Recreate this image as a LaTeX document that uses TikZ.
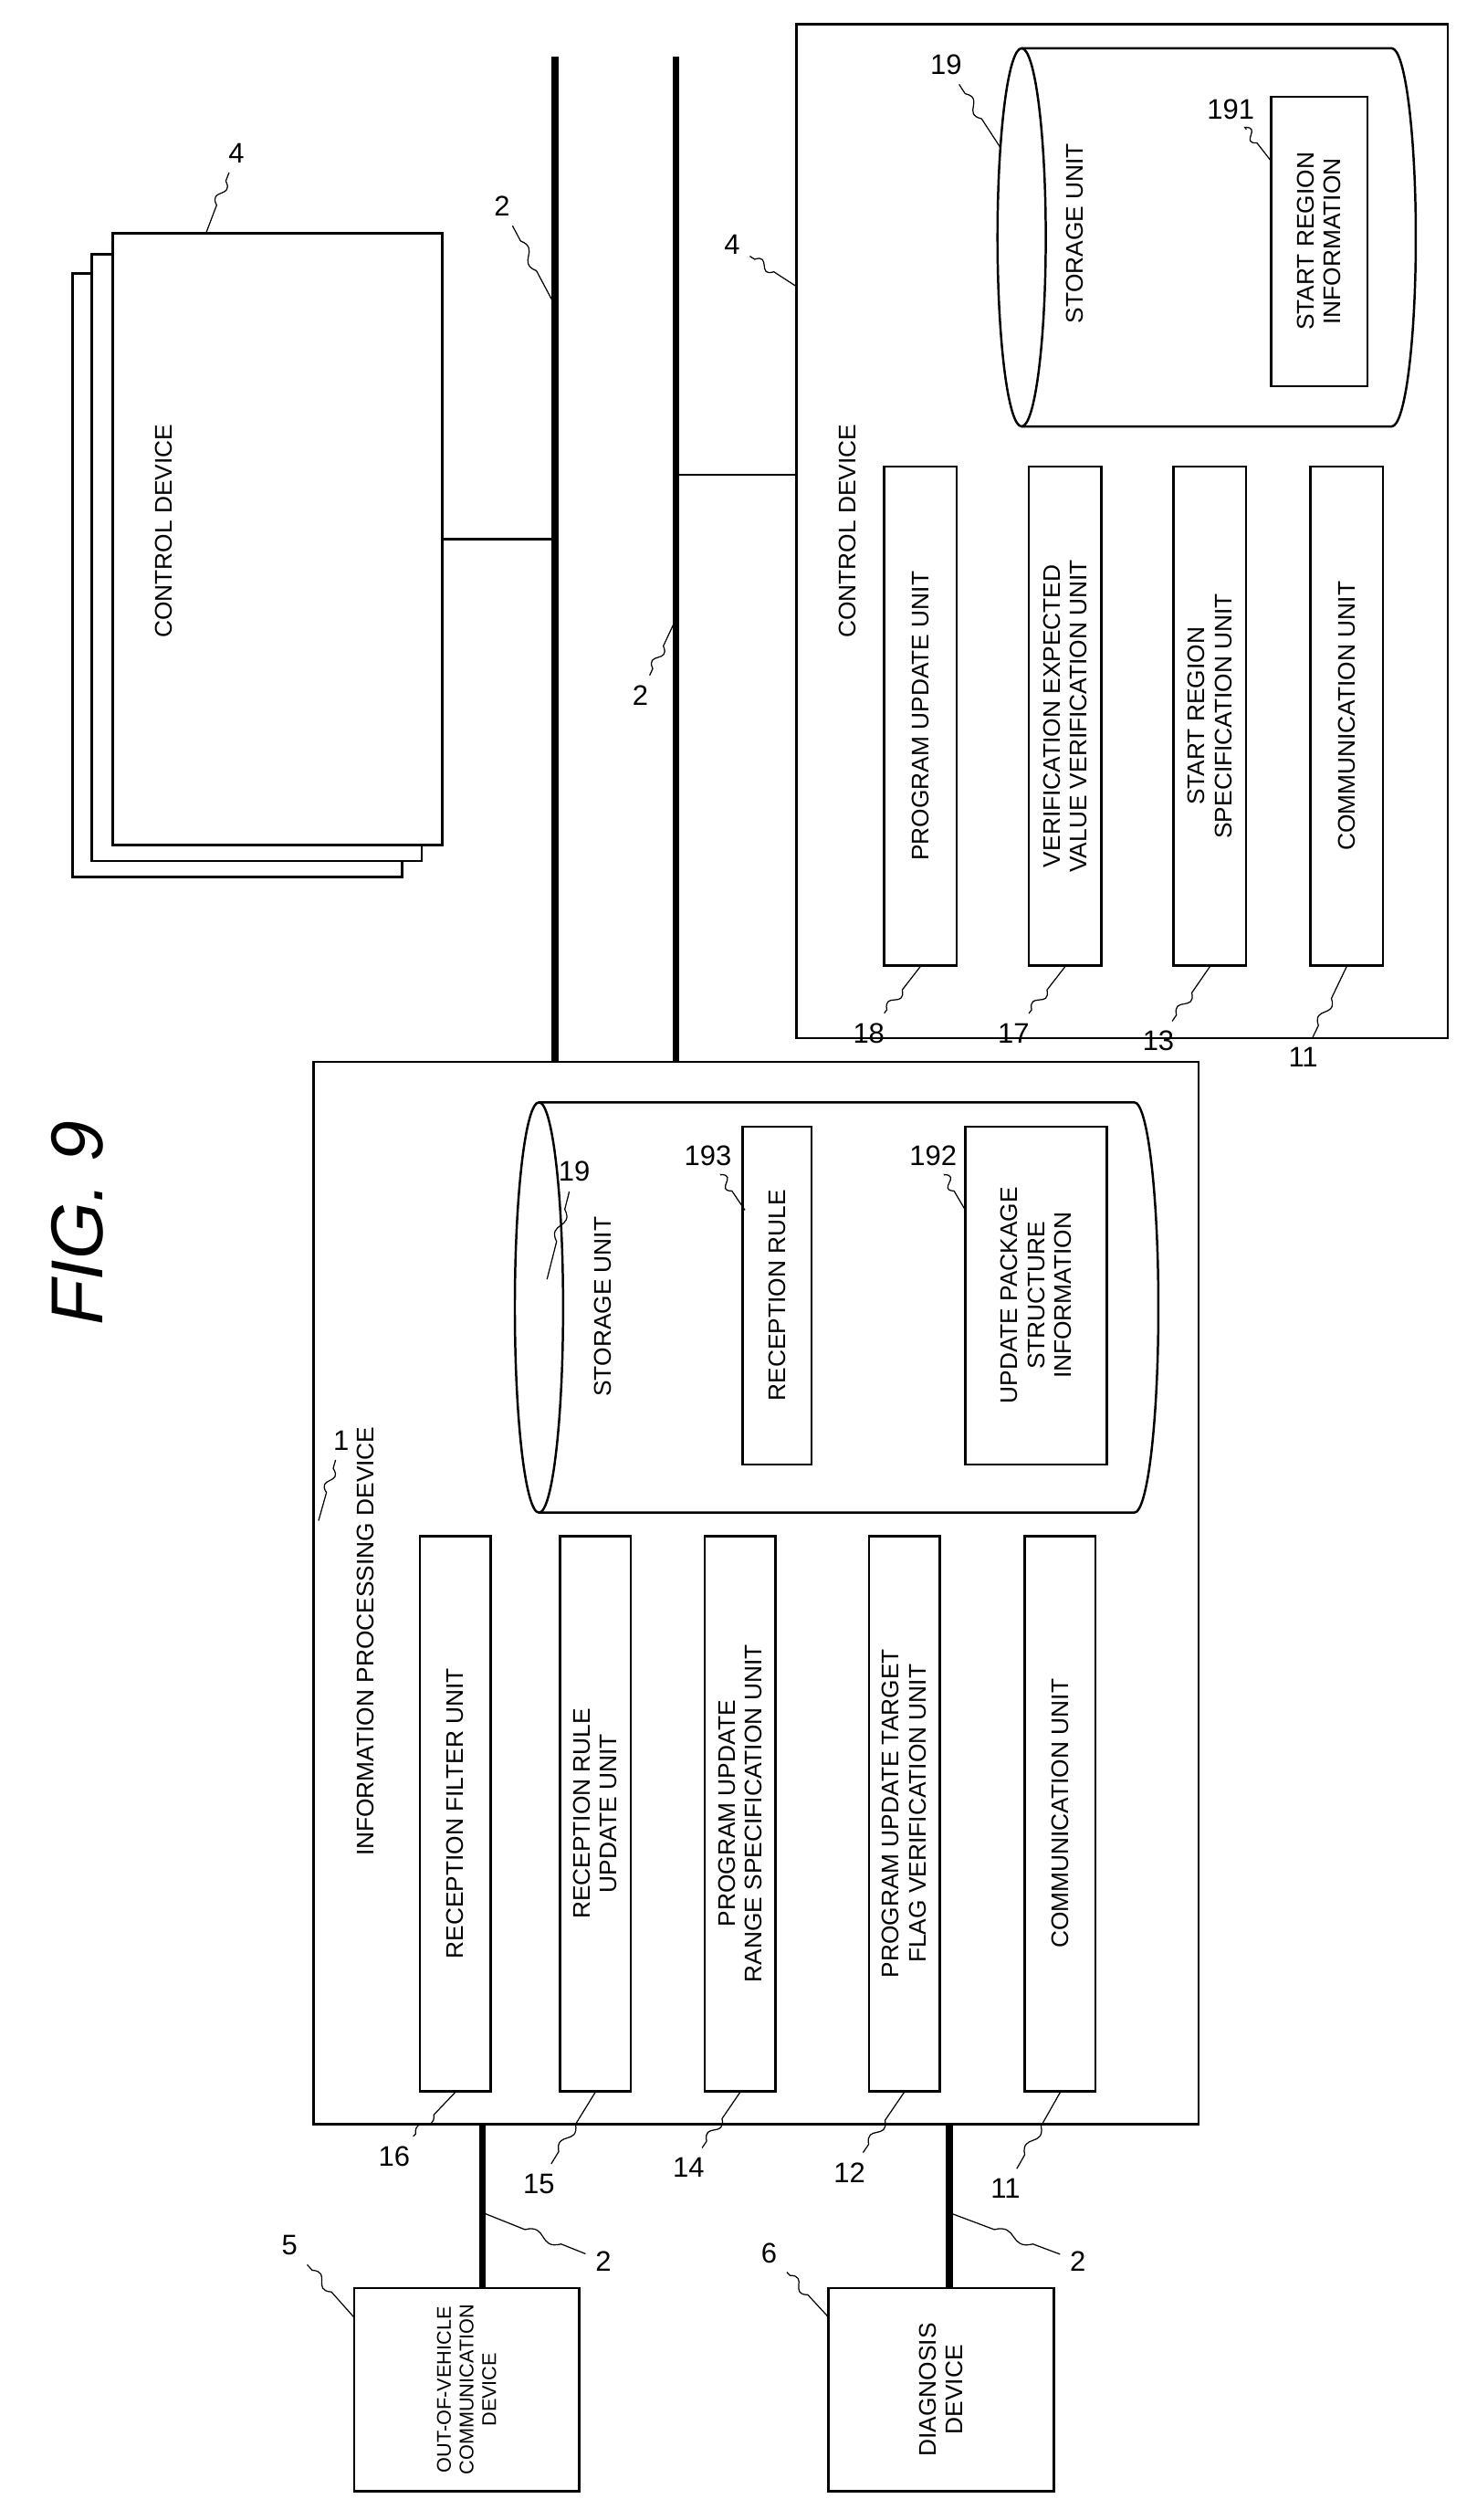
\documentclass[tikz,border=0pt]{standalone}
\usepackage{fontspec}
\setmainfont{Liberation Sans}
\usetikzlibrary{calc,positioning}

\tikzset{
  unit/.style={draw, thick, rotate=90, align=center, inner sep=1pt,
    font=\fontsize{8.5}{9.5}\selectfont},
  lbl/.style={rotate=90, align=center, font=\fontsize{8.5}{9.5}\selectfont},
  num/.style={font=\fontsize{10}{11}\selectfont},
  bus/.style={line width=2.4pt},
}
\newcommand{\leader}[2]{%
  \draw[thin] (#1) -- ($(#1)!.35!(#2)$)
    .. controls ($(#1)!.5!(#2)!5pt!90:(#2)$) and ($(#1)!.5!(#2)!5pt!-90:(#2)$)
    .. ($(#1)!.65!(#2)$) -- (#2);}

\begin{document}
\begin{tikzpicture}[x=0.02cm,y=0.02cm]
  \useasboundingbox (0,0) rectangle (918,-1566);

  \node[rotate=90, font=\itshape\fontsize{26}{28}\selectfont] (fig) at (48,-760) {FIG. 9};

  % buses
  \coordinate (b1t) at (345,-35);
  \coordinate (b1b) at (345,-660);
  \coordinate (b2t) at (420,-35);
  \coordinate (b2b) at (420,-660);
  \draw[bus] (b1t) -- (b1b);
  \draw[bus] (b2t) -- (b2b);

  % control device stack
  \draw[thick, fill=white] (45,-170) rectangle (250,-545);
  \draw[thick, fill=white] (57,-158) rectangle (262,-535);
  \draw[thick, fill=white] (70,-145) rectangle (275,-525);
  \node[lbl] (cd1) at (102,-330) {CONTROL DEVICE};
  \coordinate (s1) at (275,-335);
  \coordinate (s1b) at (345,-335);
  \draw[thick] (s1) -- (s1b);
  \node[num] (n4a) at (147,-95) {4};
  \coordinate (t4a) at (128,-145);
  \leader{n4a}{t4a}
  \node[num] (n2a) at (312,-128) {2};
  \coordinate (t2a) at (345,-190);
  \leader{n2a}{t2a}
  \node[num] (n2b) at (398,-432) {2};
  \coordinate (t2b) at (420,-385);
  \leader{n2b}{t2b}

  % control device
  \draw[thick] (495,-15) rectangle (900,-645);
  \coordinate (cdl) at (495,-295);
  \coordinate (cdb) at (420,-295);
  \draw[thick] (cdb) -- (cdl);
  \node[lbl] (cd2) at (527,-330) {CONTROL DEVICE};
  \node[num] (n4b) at (455,-152) {4};
  \coordinate (t4b) at (495,-178);
  \leader{n4b}{t4b}

  \node[unit, minimum width=6.2cm, minimum height=0.9cm] (pu) at (572,-445) {PROGRAM UPDATE UNIT};
  \node[unit, minimum width=6.2cm, minimum height=0.9cm] (vv) at (662,-445) {VERIFICATION EXPECTED\\VALUE VERIFICATION UNIT};
  \node[unit, minimum width=6.2cm, minimum height=0.9cm] (sr) at (752,-445) {START REGION\\SPECIFICATION UNIT};
  \node[unit, minimum width=6.2cm, minimum height=0.9cm] (cu2) at (837,-445) {COMMUNICATION UNIT};
  \node[num] (n18) at (540,-642) {18};
  \node[num] (n17) at (630,-642) {17};
  \node[num] (n13) at (720,-647) {13};
  \node[num] (n11b) at (810,-657) {11};
  \leader{n18}{pu.west}
  \leader{n17}{vv.west}
  \leader{n13}{sr.west}
  \leader{n11b}{cu2.west}

  \draw[thick] (635,-30) -- (865,-30) arc[start angle=90, end angle=-90, x radius=15, y radius=117.5] -- (635,-265);
  \draw[thick] (635,-147.5) ellipse[x radius=15, y radius=117.5];
  \node[lbl] (st2) at (668,-145) {STORAGE UNIT};
  \node[unit, minimum width=3.6cm, minimum height=1.2cm] (sri) at (820,-150) {START REGION\\INFORMATION};
  \node[num] (n19b) at (588,-40) {19};
  \coordinate (t19b) at (622,-92);
  \leader{n19b}{t19b}
  \node[num] (n191) at (765,-68) {191};
  \coordinate (t191) at (790,-100);
  \leader{n191}{t191}

  % information processing device
  \draw[thick] (195,-660) rectangle (745,-1320);
  \node[lbl] (ipd) at (227,-1020) {INFORMATION PROCESSING DEVICE};
  \node[num] (n1) at (212,-895) {1};
  \coordinate (t1) at (198,-945);
  \leader{n1}{t1}

  \node[unit, minimum width=6.9cm, minimum height=0.88cm] (rf) at (283,-1127) {RECEPTION FILTER UNIT};
  \node[unit, minimum width=6.9cm, minimum height=0.88cm] (rr) at (370,-1127) {RECEPTION RULE\\UPDATE UNIT};
  \node[unit, minimum width=6.9cm, minimum height=0.88cm] (pr) at (460,-1127) {PROGRAM UPDATE\\RANGE SPECIFICATION UNIT};
  \node[unit, minimum width=6.9cm, minimum height=0.88cm] (pt) at (562,-1127) {PROGRAM UPDATE TARGET\\FLAG VERIFICATION UNIT};
  \node[unit, minimum width=6.9cm, minimum height=0.88cm] (cu1) at (659,-1127) {COMMUNICATION UNIT};
  \node[num] (n16) at (245,-1340) {16};
  \node[num] (n15) at (335,-1357) {15};
  \node[num] (n14) at (428,-1347) {14};
  \node[num] (n12) at (528,-1350) {12};
  \node[num] (n11a) at (625,-1360) {11};
  \leader{n16}{rf.west}
  \leader{n15}{rr.west}
  \leader{n14}{pr.west}
  \leader{n12}{pt.west}
  \leader{n11a}{cu1.west}

  \draw[thick] (335,-685) -- (705,-685) arc[start angle=90, end angle=-90, x radius=15, y radius=127.5] -- (335,-940);
  \draw[thick] (335,-812.5) ellipse[x radius=15, y radius=127.5];
  \node[lbl] (st1) at (375,-812) {STORAGE UNIT};
  \node[unit, minimum width=4.2cm, minimum height=0.86cm] (rcr) at (483,-805) {RECEPTION RULE};
  \node[unit, minimum width=4.2cm, minimum height=1.76cm] (ups) at (644,-805) {UPDATE PACKAGE\\STRUCTURE\\INFORMATION};
  \node[num] (n19a) at (357,-728) {19};
  \coordinate (t19a) at (340,-795);
  \leader{n19a}{t19a}
  \node[num] (n193) at (440,-718) {193};
  \coordinate (t193) at (463,-752);
  \leader{n193}{t193}
  \node[num] (n192) at (580,-718) {192};
  \coordinate (t192) at (600,-752);
  \leader{n192}{t192}

  % external devices
  \draw[thick] (220,-1422) rectangle (360,-1548);
  \node[lbl, font=\fontsize{7}{8}\selectfont] (ovc) at (290,-1485) {OUT-OF-VEHICLE\\COMMUNICATION\\DEVICE};
  \draw[thick] (515,-1422) rectangle (655,-1548);
  \node[lbl] (dgd) at (585,-1485) {DIAGNOSIS\\DEVICE};
  \coordinate (l1t) at (300,-1320);
  \coordinate (l1b) at (300,-1422);
  \coordinate (l2t) at (590,-1320);
  \coordinate (l2b) at (590,-1422);
  \draw[bus] (l1t) -- (l1b);
  \draw[bus] (l2t) -- (l2b);
  \node[num] (n2c) at (375,-1405) {2};
  \coordinate (t2c) at (300,-1375);
  \leader{n2c}{t2c}
  \node[num] (n2d) at (670,-1405) {2};
  \coordinate (t2d) at (590,-1375);
  \leader{n2d}{t2d}
  \node[num] (n5) at (180,-1395) {5};
  \coordinate (t5) at (220,-1440);
  \leader{n5}{t5}
  \node[num] (n6) at (478,-1400) {6};
  \coordinate (t6) at (515,-1440);
  \leader{n6}{t6}
\end{tikzpicture}
\end{document}
